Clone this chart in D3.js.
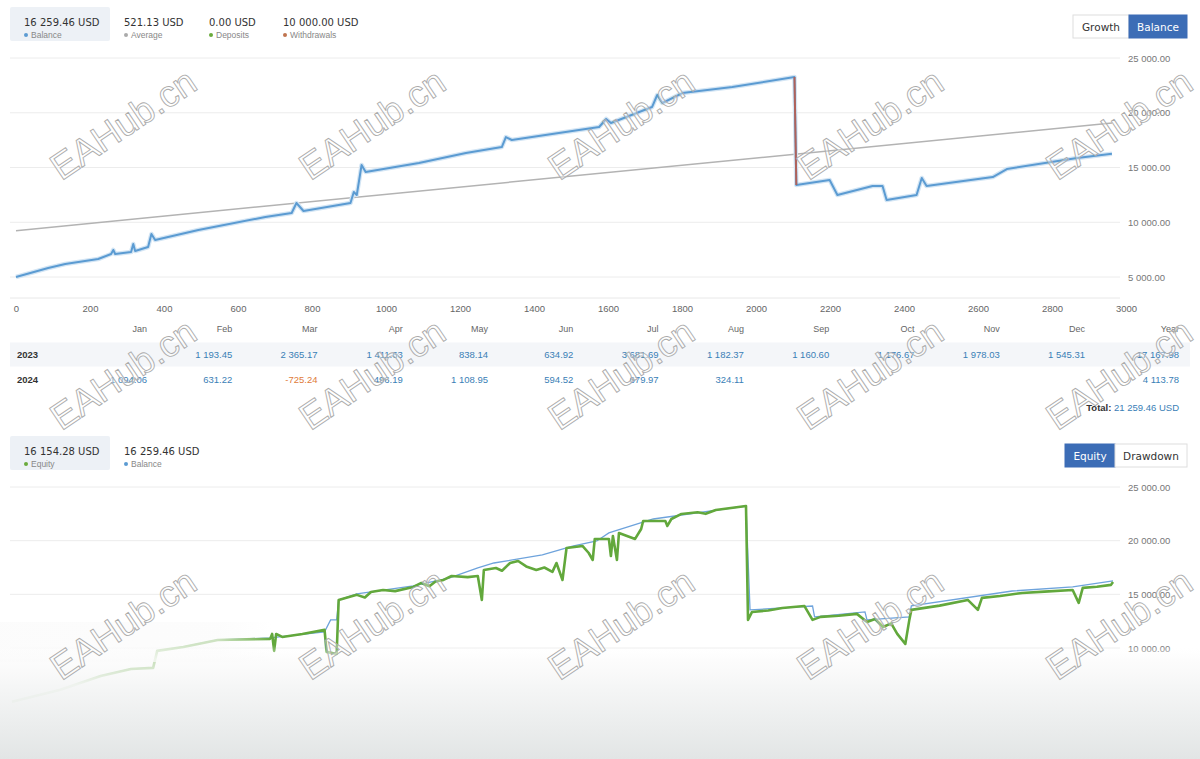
<!DOCTYPE html>
<html>
<head>
<meta charset="utf-8">
<script src="https://cdn.jsdelivr.net/npm/d3@7"></script>
<style>
  body { margin: 0; background: #fff; }
  svg { display: block; font-family: "Liberation Sans", Arial, sans-serif; }
</style>
</head>
<body>
<svg id="chart" width="1200" height="759"></svg>
<script>
// ---- data ----
const topStatValues = ["16 259.46 USD", "521.13 USD", "0.00 USD", "10 000.00 USD"];
const topStatLabels = ["Balance", "Average", "Deposits", "Withdrawals"];
const bottomStatValues = ["16 154.28 USD", "16 259.46 USD"];
const bottomStatLabels = ["Equity", "Balance"];

const xTicksTop = [0, 200, 400, 600, 800, 1000, 1200, 1400, 1600, 1800, 2000, 2200, 2400, 2600, 2800, 3000];
const yTicksTop = [5000, 10000, 15000, 20000, 25000];
const yTicksBottom = [10000, 15000, 20000, 25000];

// balance by trade number
const balance = [
  [0, 5000], [87, 5820], [133, 6190], [222, 6640], [257, 7100], [263, 7470], [268, 7100],
  [311, 7280], [317, 8010], [322, 7370], [357, 7740], [366, 8930], [376, 8380], [493, 9290],
  [674, 10480], [745, 10840], [758, 11760], [777, 11030], [904, 11760], [913, 12760], [921, 12490],
  [934, 15230], [945, 14590], [1089, 15410], [1216, 16320], [1313, 16870], [1324, 17780], [1340, 17510],
  [1576, 18700], [1595, 19430], [1608, 19060], [1622, 19250], [1719, 20520], [1733, 21620], [1747, 20890],
  [1801, 21800], [1936, 22350], [2104, 23260], [2109, 13400], [2199, 13860], [2220, 12490],
  [2315, 13310], [2342, 13310], [2353, 12030], [2434, 12490], [2448, 14040], [2461, 13310],
  [2640, 14130], [2678, 14860], [2868, 15870], [2962, 16259.46]
];
const withdrawalTrades = [2104];
const average = [[0, 9230], [2962, 19060]];

// equity / balance by day since start
const equityDaily = [
  [0, 5000], [24, 6110], [44, 7400], [59, 8050], [70, 8150], [72, 9730], [85, 10100], [102, 10750],
  [128, 10850], [129, 11310], [130, 9730], [131, 11310], [134, 11030], [144, 11310], [155, 11690],
  [156, 9640], [161, 9450], [162, 14480], [171, 14950], [175, 14700], [178, 15220], [184, 15410],
  [190, 15300], [199, 15690], [203, 16060], [207, 15750], [210, 16200], [214, 16340], [218, 16710],
  [226, 16600], [231, 16710], [233, 14480], [234, 17270], [240, 17450], [243, 17200], [247, 17920],
  [251, 18110], [255, 17600], [260, 17270], [264, 17500], [268, 17090], [270, 17920], [273, 16340],
  [275, 19320], [283, 19500], [286, 18850], [288, 18200], [289, 20160], [296, 20160], [297, 18570],
  [298, 20440], [300, 18200], [301, 20720], [309, 20160], [312, 21090], [313, 21830], [324, 21830],
  [325, 21370], [327, 22020], [332, 22490], [340, 22650], [344, 22500], [349, 22860], [364, 23230],
  [365, 12620], [367, 13360], [375, 13500], [382, 13730], [393, 13910], [397, 12620], [401, 12900],
  [410, 13000], [419, 13180], [424, 12430], [428, 12700], [432, 11960], [436, 12300], [439, 11310],
  [443, 10380], [445, 12620], [446, 13550], [460, 13950], [474, 14480], [479, 13550], [481, 14670],
  [490, 14850], [501, 15130], [512, 15250], [526, 15410], [529, 14200], [531, 15600], [538, 15700],
  [545, 15880], [546, 16154.28]
];
const balanceDaily = [
  [0, 5000], [24, 6110], [44, 7400], [59, 8050], [70, 8150], [72, 9730], [85, 10100], [102, 10750],
  [128, 10940], [155, 11500], [158, 12620], [161, 12620], [162, 14480], [171, 15040], [199, 15780],
  [217, 16530], [231, 17460], [239, 17920], [263, 18670], [278, 19500], [290, 19970], [296, 20720],
  [318, 22020], [364, 23230], [366, 13550], [382, 13730], [397, 13910], [398, 12900], [423, 13360],
  [424, 12620], [445, 12900], [446, 13920], [496, 15310], [526, 15690], [546, 16259.46]
];

const months = ["Jan", "Feb", "Mar", "Apr", "May", "Jun", "Jul", "Aug", "Sep", "Oct", "Nov", "Dec"];
const years = ["2023", "2024"];
const profit2023 = [null, 1193.45, 2365.17, 1411.63, 838.14, 634.92, 3681.69, 1182.37, 1160.60, 1176.67, 1978.03, 1545.31];
const profit2024 = [1094.06, 631.22, -725.24, 496.19, 1108.95, 594.52, 679.97, 324.11, null, null, null, null];
const yearTotals = [17167.98, 4113.78];
const grandTotal = 21259.46;

// ---- styles ----
const BLUE = "#5b9bd2", GREEN = "#62a83c", GREY = "#b3b3b3", BROWN = "#b0625a", BTN = "#3c6db6";
const VAL = "#3a80b6", NEG = "#e07b39";
const topDots = [BLUE, "#aaaaaa", "#6aab3c", "#c0744f"];
const bottomDots = ["#6aab3c", BLUE];

const num = d3.formatLocale({decimal: ".", thousands: " ", grouping: [3], currency: ["", ""], minus: "-"}).format(",.2f");

const svg = d3.select("#chart");
svg.append("rect").attr("width", 1200).attr("height", 759).attr("fill", "#fff");

// ---- header stats and buttons ----
function stats(y, values, labels, dots, xs) {
  svg.append("rect").attr("x", 10).attr("y", y - 15).attr("width", 100).attr("height", 34)
    .attr("rx", 2).attr("fill", "#edf1f6");
  const g = svg.append("g").selectAll("g").data(values).join("g")
    .attr("transform", (d, i) => `translate(${xs[i]},${y})`);
  g.append("text").text(d => d).attr("y", 4)
    .attr("font-family", "DejaVu Sans").attr("font-size", 10).attr("fill", "#333");
  g.append("circle").attr("cx", 2).attr("cy", 13).attr("r", 2).attr("fill", (d, i) => dots[i]);
  g.append("text").text((d, i) => labels[i]).attr("x", 7).attr("y", 16)
    .attr("font-size", 8.5).attr("fill", "#888");
}
stats(22, topStatValues, topStatLabels, topDots, [24, 124, 209, 283]);
stats(451, bottomStatValues, bottomStatLabels, bottomDots, [24, 124]);

function buttons(x, y, names, widths, active) {
  let cx = x;
  names.forEach((n, i) => {
    svg.append("rect").attr("x", cx).attr("y", y).attr("width", widths[i]).attr("height", 23)
      .attr("fill", i === active ? BTN : "#fff").attr("stroke", i === active ? BTN : "#dedede");
    svg.append("text").text(n).attr("x", cx + widths[i] / 2).attr("y", y + 15.5)
      .attr("text-anchor", "middle").attr("font-family", "DejaVu Sans").attr("font-size", 10.5)
      .attr("fill", i === active ? "#fff" : "#333");
    cx += widths[i];
  });
}
buttons(1073, 15, ["Growth", "Balance"], [56, 58], 1);
buttons(1065, 444, ["Equity", "Drawdown"], [50, 72], 0);

// ---- top balance chart ----
const xTop = d3.scaleLinear().domain([0, 3000]).range([16, 1126]);
const yTop = d3.scaleLinear().domain([5000, 25000]).range([277, 58]);

svg.append("g").selectAll("line").data(yTicksTop).join("line")
  .attr("x1", 10).attr("x2", 1120).attr("y1", d => yTop(d)).attr("y2", d => yTop(d))
  .attr("stroke", "#ececec");
svg.append("line").attr("x1", 10).attr("x2", 1120).attr("y1", 298).attr("y2", 298).attr("stroke", "#e8e8e8");

const xAxisTop = svg.append("g").attr("transform", "translate(0,298)")
  .call(d3.axisBottom(xTop).tickValues(xTicksTop).tickSize(0).tickPadding(7).tickFormat(d3.format("d")));
xAxisTop.select(".domain").remove();
xAxisTop.selectAll("text").attr("fill", "#666").attr("font-size", 9.5).attr("font-family", "Liberation Sans");

function rightAxis(scale, ticks) {
  const g = svg.append("g").attr("transform", "translate(1128,0)")
    .call(d3.axisRight(scale).tickValues(ticks).tickSize(0).tickPadding(0).tickFormat(num));
  g.select(".domain").remove();
  g.selectAll("text").attr("fill", "#777").attr("font-size", 9.5).attr("font-family", "Liberation Sans");
}
rightAxis(yTop, yTicksTop);

const lineTop = d3.line().x(d => xTop(d[0])).y(d => yTop(d[1]));
svg.append("path").datum(average).attr("d", lineTop).attr("fill", "none")
  .attr("stroke", GREY).attr("stroke-width", 1.5);
svg.append("path").datum(balance).attr("d", lineTop).attr("fill", "none")
  .attr("stroke", "#d3e5f4").attr("stroke-width", 4.5).attr("stroke-linejoin", "round");
svg.append("path").datum(balance).attr("d", lineTop).attr("fill", "none")
  .attr("stroke", BLUE).attr("stroke-width", 2).attr("stroke-linejoin", "round");
withdrawalTrades.forEach(t => {
  const i = balance.findIndex(d => d[0] === t);
  svg.append("path").datum(balance.slice(i, i + 2)).attr("d", lineTop).attr("fill", "none")
    .attr("stroke", BROWN).attr("stroke-width", 2);
});

// ---- monthly table ----
const colX = d3.scalePoint().domain(months).range([147, 1085]);
const yearX = 1179;
const rowY = d3.scalePoint().domain(["head", ...years]).range([332, 383]);

svg.append("rect").attr("x", 10).attr("y", rowY("2023") - 15).attr("width", 1180).attr("height", 24)
  .attr("fill", "#f4f6f9");

svg.append("g").selectAll("text").data(months).join("text")
  .text(d => d).attr("x", d => colX(d)).attr("y", rowY("head"))
  .attr("text-anchor", "end").attr("font-size", 9).attr("fill", "#666");
svg.append("text").text("Year").attr("x", yearX).attr("y", rowY("head"))
  .attr("text-anchor", "end").attr("font-size", 9).attr("fill", "#666");

[profit2023, profit2024].forEach((row, r) => {
  const y = rowY(years[r]);
  svg.append("text").text(years[r]).attr("x", 17).attr("y", y)
    .attr("font-size", 9.5).attr("font-weight", "bold").attr("fill", "#333");
  svg.append("g").selectAll("text").data(row.map((v, i) => [months[i], v]).filter(d => d[1] !== null))
    .join("text").text(d => num(d[1])).attr("x", d => colX(d[0])).attr("y", y)
    .attr("text-anchor", "end").attr("font-size", 9.5).attr("fill", d => d[1] < 0 ? NEG : VAL);
  svg.append("text").text(num(yearTotals[r])).attr("x", yearX).attr("y", y)
    .attr("text-anchor", "end").attr("font-size", 9.5).attr("fill", VAL);
});
const tot = svg.append("text").attr("x", yearX).attr("y", 411).attr("text-anchor", "end").attr("font-size", 9.5);
tot.append("tspan").text("Total: ").attr("font-weight", "bold").attr("fill", "#333");
tot.append("tspan").text(num(grandTotal) + " USD").attr("fill", VAL);

// ---- bottom equity chart ----
const xBot = d3.scaleLinear().domain([0, 546]).range([12, 1113]);
const yBot = d3.scaleLinear().domain([10000, 25000]).range([648, 487]);

svg.append("g").selectAll("line").data(yTicksBottom).join("line")
  .attr("x1", 10).attr("x2", 1120).attr("y1", d => yBot(d)).attr("y2", d => yBot(d))
  .attr("stroke", "#ececec");
rightAxis(yBot, yTicksBottom);

const lineBot = d3.line().x(d => xBot(d[0])).y(d => yBot(d[1]));
svg.append("path").datum(balanceDaily).attr("d", lineBot).attr("fill", "none")
  .attr("stroke", "#6ea3dc").attr("stroke-width", 1.3);
svg.append("path").datum(equityDaily).attr("d", lineBot).attr("fill", "none")
  .attr("stroke", GREEN).attr("stroke-width", 2.6).attr("stroke-linejoin", "round");

// ---- washed-out bottom of the screenshot ----
const defs = svg.append("defs");
const fog = defs.append("linearGradient").attr("id", "fog").attr("x1", 0).attr("x2", 0).attr("y1", 0).attr("y2", 1);
[[0, "#ffffff", 0], [0.12, "#fbfbfb", 0.65], [0.35, "#f5f6f6", 0.96], [1, "#e2e5e5", 1]].forEach(s =>
  fog.append("stop").attr("offset", s[0]).attr("stop-color", s[1]).attr("stop-opacity", s[2]));
const fogLeft = defs.append("linearGradient").attr("id", "fogLeft").attr("x1", 0).attr("x2", 1).attr("y1", 0).attr("y2", 0);
[[0, 0.85], [0.8, 0.7], [0.95, 0.2], [1, 0]].forEach(s =>
  fogLeft.append("stop").attr("offset", s[0]).attr("stop-color", "#fbfbfb").attr("stop-opacity", s[1]));
svg.append("rect").attr("x", 0).attr("y", 622).attr("width", 272).attr("height", 40).attr("fill", "url(#fogLeft)");
svg.append("rect").attr("x", 0).attr("y", 645).attr("width", 1200).attr("height", 114).attr("fill", "url(#fog)");

// ---- watermark ----
const marks = d3.cross(d3.range(5), d3.range(3));
svg.append("g").selectAll("text").data(marks).join("text")
  .attr("transform", d => `translate(${123 + d[0] * 249},${124 + d[1] * 250}) rotate(-34)`)
  .attr("text-anchor", "middle").attr("dy", "0.35em")
  .attr("font-family", "Liberation Sans").attr("font-size", 37)
  .attr("fill", "#fff").attr("fill-opacity", 0.35)
  .attr("stroke", "#ababab").attr("stroke-width", 0.9)
  .text("EAHub.cn");
</script>
</body>
</html>
